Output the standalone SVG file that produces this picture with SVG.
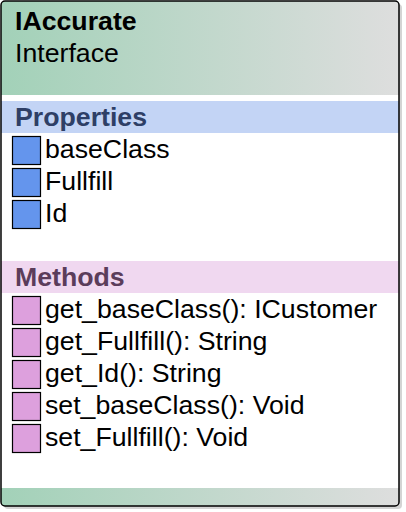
<svg xmlns="http://www.w3.org/2000/svg" width="406" height="512" viewBox="0 0 406 512">
  <style>
    text { font-family: "Liberation Sans", Arial, sans-serif; font-size: 26.7px; }
    .title { font-weight: bold; fill: #000; }
    .sub { fill: #000; }
    .sect-p { font-weight: bold; fill: #2e3f66; }
    .sect-m { font-weight: bold; fill: #5b3d5b; }
    .item { fill: #000; }
    .ico-p { fill: #6495ed; stroke: #000; stroke-width: 1.2; }
    .ico-m { fill: #dda0dd; stroke: #000; stroke-width: 1.2; }
  </style>
  <defs>
    <linearGradient id="hdr" x1="0" y1="0" x2="1" y2="0">
      <stop offset="0" stop-color="#a2d1b8"/>
      <stop offset="1" stop-color="#dedede"/>
    </linearGradient>
    <clipPath id="boxClip">
      <rect x="1" y="1" width="398" height="505" rx="4"/>
    </clipPath>
  </defs>

  <g id="IAccurate">
    <!-- drop shadow -->
    <rect x="4" y="4" width="398" height="505" rx="4" fill="#d4d4d4"/>
    <!-- body -->
    <rect x="1" y="1" width="398" height="505" rx="4" fill="#fff"/>
    <g clip-path="url(#boxClip)">
      <rect x="0" y="0" width="400" height="95" fill="url(#hdr)"/>
      <rect x="0" y="101" width="400" height="32" fill="#c3d4f5"/>
      <rect x="0" y="261" width="400" height="32" fill="#f0d8f0"/>
      <rect x="0" y="488" width="400" height="20" fill="url(#hdr)"/>
    </g>
    <rect x="1" y="1" width="398" height="505" rx="4" fill="none" stroke="#000" stroke-width="1.5"/>

    <text class="title" x="15" y="30">IAccurate</text>
    <text class="sub" x="15" y="62">Interface</text>

    <g id="properties">
      <text class="sect-p" x="15" y="126">Properties</text>
      <rect class="ico-p" x="12.5" y="136.5" width="28" height="28"/>
      <text class="item" x="45" y="158">baseClass</text>
      <rect class="ico-p" x="12.5" y="168.5" width="28" height="28"/>
      <text class="item" x="45" y="190">Fullfill</text>
      <rect class="ico-p" x="12.5" y="200.5" width="28" height="28"/>
      <text class="item" x="45" y="222">Id</text>
    </g>

    <g id="methods">
      <text class="sect-m" x="15" y="286">Methods</text>
      <rect class="ico-m" x="12.5" y="296.5" width="28" height="28"/>
      <text class="item" x="45" y="318">get_baseClass(): ICustomer</text>
      <rect class="ico-m" x="12.5" y="328.5" width="28" height="28"/>
      <text class="item" x="45" y="350">get_Fullfill(): String</text>
      <rect class="ico-m" x="12.5" y="360.5" width="28" height="28"/>
      <text class="item" x="45" y="382">get_Id(): String</text>
      <rect class="ico-m" x="12.5" y="392.5" width="28" height="28"/>
      <text class="item" x="45" y="414">set_baseClass(): Void</text>
      <rect class="ico-m" x="12.5" y="424.5" width="28" height="28"/>
      <text class="item" x="45" y="446">set_Fullfill(): Void</text>
    </g>
  </g>
</svg>
